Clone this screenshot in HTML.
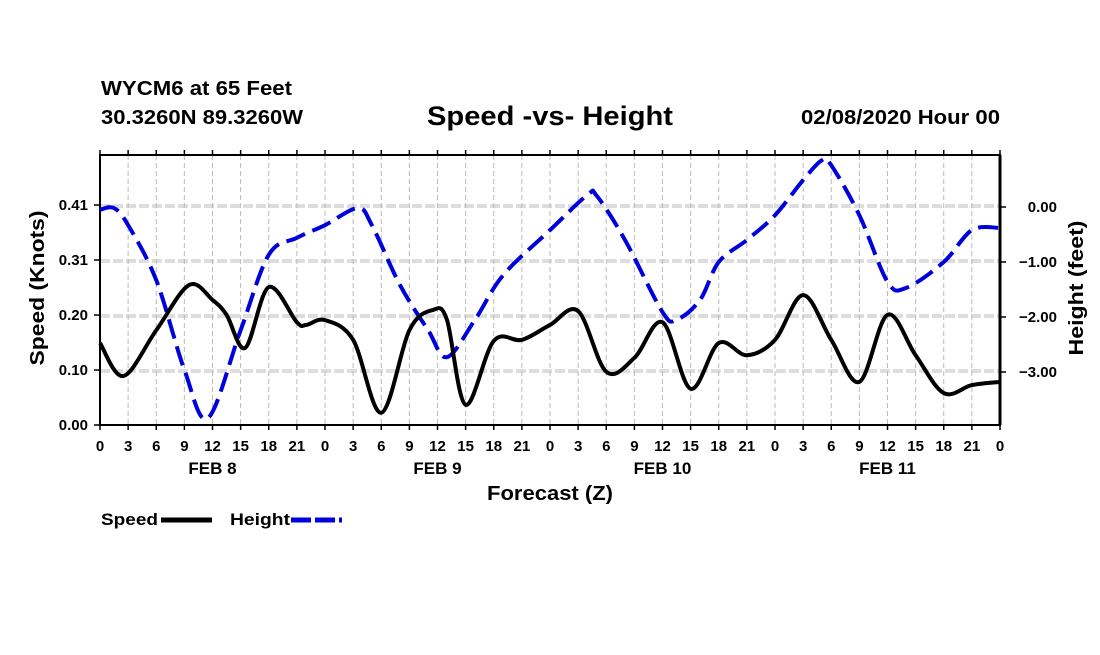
<!DOCTYPE html>
<html><head><meta charset="utf-8"><style>
body{margin:0;background:#fff;}
svg text{font-family:"Liberation Sans",sans-serif;font-weight:bold;fill:#000;}
</style></head><body>
<svg id="chart" width="1100" height="650" viewBox="0 0 1100 650">
<text x="101" y="95" font-size="20" textLength="191" lengthAdjust="spacingAndGlyphs">WYCM6 at 65 Feet</text>
<text x="101" y="124" font-size="20" textLength="202" lengthAdjust="spacingAndGlyphs">30.3260N 89.3260W</text>
<text x="427" y="125" font-size="27" textLength="246" lengthAdjust="spacingAndGlyphs">Speed -vs- Height</text>
<text x="801" y="124" font-size="20" textLength="199" lengthAdjust="spacingAndGlyphs">02/08/2020 Hour 00</text>
<g id="grid"></g>
<g id="axes"></g>
<g id="series"></g>
<text transform="translate(44,288) rotate(-90)" font-size="20" text-anchor="middle" textLength="155" lengthAdjust="spacingAndGlyphs">Speed (Knots)</text>
<text transform="translate(1083,288) rotate(-90)" font-size="20" text-anchor="middle" textLength="135" lengthAdjust="spacingAndGlyphs">Height (feet)</text>
<text x="487" y="500" font-size="20" textLength="126" lengthAdjust="spacingAndGlyphs">Forecast (Z)</text>
<g>
<text x="101" y="525" font-size="17" textLength="57" lengthAdjust="spacingAndGlyphs">Speed</text>
<line x1="161" y1="520" x2="212" y2="520" stroke="#000" stroke-width="5"/>
<text x="230" y="525" font-size="17" textLength="60" lengthAdjust="spacingAndGlyphs">Height</text>
<line x1="291" y1="520" x2="342" y2="520" stroke="#0000dd" stroke-width="5" stroke-dasharray="20,4"/>
</g>
</svg>
<script>
const speedHours=[0,2.5,6,9.5,12,13.5,15.5,18,21,22,24,27,30,33,35.5,37,39,42,45,48,51,54,57,60,63,66,69,72,75,78,81,84,87,90,93,96];
const speedValues=[0.154,0.092,0.178,0.263,0.235,0.207,0.145,0.259,0.193,0.188,0.197,0.16,0.023,0.178,0.216,0.198,0.038,0.158,0.16,0.188,0.214,0.10,0.126,0.193,0.068,0.154,0.131,0.16,0.244,0.16,0.081,0.207,0.131,0.06,0.075,0.081];
const heightHours=[0,1.5,3,6,9,11.5,15,18,21,24,27.5,29,32,35,37,40,43,48,52,53,56,60,61.5,64,66,69,72,75,77,78,81,84,86,90,93,96];
const heightValues=[-0.05,-0.02,-0.33,-1.33,-2.96,-3.84,-2.24,-0.87,-0.56,-0.33,-0.02,-0.33,-1.42,-2.24,-2.73,-2.05,-1.24,-0.42,0.22,0.2,-0.6,-1.91,-2.05,-1.69,-1.0,-0.6,-0.15,0.49,0.85,0.76,-0.15,-1.36,-1.47,-1.0,-0.42,-0.38];
const speedTicks=[0,0.1033,0.2066,0.31,0.4133];
const speedTickLabels=["0.00","0.10","0.20","0.31","0.41"];
const heightTicks=[0,-1,-2,-3];
const heightTickLabels=["0.00","\u22121.00","\u22122.00","\u22123.00"];
const hourLabels=["0","3","6","9","12","15","18","21"];
const dayLabels=["FEB 8","FEB 9","FEB 10","FEB 11"];

const L=100,R=1000,T=155,B=425;
const xS=h=>L+h*(R-L)/96;
const yS=v=>B-v*220/0.4133;
const yH=v=>207-v*55;
const NS="http://www.w3.org/2000/svg";
function mk(tag,parent,attrs){const e=document.createElementNS(NS,tag);for(const k in attrs)e.setAttribute(k,attrs[k]);parent.appendChild(e);return e;}
const grid=document.getElementById('grid'),axes=document.getElementById('axes'),series=document.getElementById('series');
for(let h=3;h<96;h+=3){
 const gl=mk('line',grid,{x1:xS(h),x2:xS(h),y1:T,y2:B,stroke:'#bbb','stroke-width':1,'stroke-dasharray':'5,3'});
 
 
}
speedTicks.slice(1).forEach(v=>{
 const gl=mk('line',grid,{x1:L,x2:R,y1:yS(v),y2:yS(v),stroke:'#bbb','stroke-width':1,'stroke-dasharray':'10,3'});
 
 
});
heightTicks.forEach(v=>{
 const gl=mk('line',grid,{x1:L,x2:R,y1:yH(v),y2:yH(v),stroke:'#bbb','stroke-width':1,'stroke-dasharray':'10,3'});
 
 
});
const frame=mk('rect',axes,{x:L,y:T,width:R-L,height:B-T,fill:'none',stroke:'#000','stroke-width':2});


mk('line',axes,{x1:R,x2:R,y1:T,y2:B,stroke:'#000','stroke-width':3});
speedTicks.forEach((v,i)=>{
 mk('line',axes,{x1:L-6,x2:L,y1:yS(v),y2:yS(v),stroke:'#000','stroke-width':1.5});
 const t=mk('text',axes,{x:L-12,y:yS(v)+5,'font-size':15,'text-anchor':'end'});
 t.textContent=speedTickLabels[i];
 
 
});
heightTicks.forEach((v,i)=>{
 mk('line',axes,{x1:R,x2:R+6,y1:yH(v),y2:yH(v),stroke:'#000','stroke-width':1.5});
 const t=mk('text',axes,{x:1057,y:yH(v)+5,'font-size':15,'text-anchor':'end'});
 t.textContent=heightTickLabels[i];
 
 
});
for(let h=0;h<=96;h+=3){
 mk('line',axes,{x1:xS(h),x2:xS(h),y1:B,y2:B+5,stroke:'#000','stroke-width':1.5});
 mk('line',axes,{x1:xS(h),x2:xS(h),y1:T-5,y2:T,stroke:'#000','stroke-width':1.5});
 const t=mk('text',axes,{x:xS(h),y:451,'font-size':15,'text-anchor':'middle'});
 t.textContent=hourLabels[(h/3)%8];
 
 
}
dayLabels.forEach((d,i)=>{
 const t=mk('text',axes,{x:xS(12+24*i),y:474,'font-size':17,'text-anchor':'middle'});
 t.textContent=d;
 
 
});
function path(hs,vs,ys){
 const p=hs.map((h,i)=>[xS(h),ys(vs[i])]);
 let d='M'+p[0][0]+','+p[0][1];
 for(let i=0;i<p.length-1;i++){
  const p0=p[Math.max(0,i-1)],p1=p[i],p2=p[i+1],p3=p[Math.min(p.length-1,i+2)];
  const c1=[p1[0]+(p2[0]-p0[0])/6,p1[1]+(p2[1]-p0[1])/6];
  const c2=[p2[0]-(p3[0]-p1[0])/6,p2[1]-(p3[1]-p1[1])/6];
  d+=` C${c1[0]},${c1[1]} ${c2[0]},${c2[1]} ${p2[0]},${p2[1]}`;
 }
 return d;
}
const hp=mk('path',series,{d:path(heightHours,heightValues,yH),fill:'none',stroke:'#0000dd','stroke-width':4,'stroke-dasharray':'20,8'});


const sp=mk('path',series,{d:path(speedHours,speedValues,yS),fill:'none',stroke:'#000','stroke-width':4});


</script>
</body></html>
